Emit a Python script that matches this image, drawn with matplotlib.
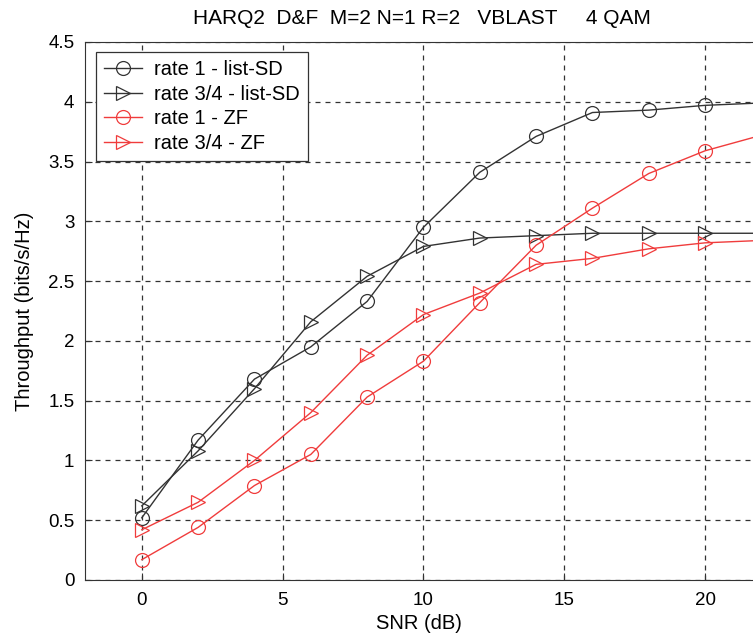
import matplotlib
matplotlib.use("Agg")
import matplotlib.pyplot as plt

snr = [0, 2, 4, 6, 8, 10, 12, 14, 16, 18, 20, 22]
rate1_sd = [0.52, 1.17, 1.68, 1.95, 2.33, 2.95, 3.41, 3.71, 3.91, 3.93, 3.97, 3.99]
rate34_sd = [0.62, 1.08, 1.60, 2.16, 2.54, 2.79, 2.86, 2.88, 2.90, 2.90, 2.90, 2.90]
rate1_zf = [0.17, 0.44, 0.79, 1.05, 1.53, 1.83, 2.32, 2.80, 3.11, 3.40, 3.59, 3.72]
rate34_zf = [0.42, 0.65, 1.00, 1.40, 1.88, 2.22, 2.40, 2.64, 2.69, 2.77, 2.82, 2.84]
labels = ["rate 1 - list-SD", "rate 3/4 - list-SD", "rate 1 - ZF", "rate 3/4 - ZF"]
xticks = [0, 5, 10, 15, 20]
yticks = [0, 0.5, 1, 1.5, 2, 2.5, 3, 3.5, 4, 4.5]
ytick_labels = ['0', '0.5', '1', '1.5', '2', '2.5', '3', '3.5', '4', '4.5']
title = 'HARQ2  D&F  M=2 N=1 R=2   VBLAST     4 QAM'

plt.rcParams['font.family'] = ['Liberation Sans', 'DejaVu Sans']
fig = plt.figure(figsize=(7.53, 6.34), dpi=100)
ax = fig.add_axes([0.1135, 0.0852, 0.8865, 0.8486])

black = '#333333'
red = '#f03c3c'
ms = 10
ax.plot(snr, rate1_sd, color=black, lw=1, marker='o', ms=ms, mfc='none', mec=black, mew=0.9, label=labels[0])
ax.plot(snr, rate34_sd, color=black, lw=1, marker='>', ms=ms, mfc='none', mec=black, mew=0.9, label=labels[1])
ax.plot(snr, rate1_zf, color=red, lw=1, marker='o', ms=ms, mfc='none', mec=red, mew=0.9, label=labels[2])
ax.plot(snr, rate34_zf, color=red, lw=1, marker='>', ms=ms, mfc='none', mec=red, mew=0.9, label=labels[3])

ax.set_xlim(-2, 21.7)
ax.set_ylim(0, 4.5)
ax.set_xticks(xticks)
ax.set_yticks(yticks)
ax.set_yticklabels(ytick_labels)
ax.tick_params(direction='in', labelsize=13.5, length=5, color='#333333')
ax.tick_params(axis='y', pad=8)
ax.tick_params(axis='x', pad=9)
ax.grid(True, color='#333333', linestyle=(0, (4, 4)), linewidth=0.9)
for s in ['left', 'bottom', 'top']:
    ax.spines[s].set_color('#333333')
ax.spines['right'].set_visible(False)

ax.set_xlabel('SNR (dB)', fontsize=14.5, labelpad=3)
ax.set_ylabel('Throughput (bits/s/Hz)', fontsize=14.5, labelpad=10)
fig.text(422 / 753, 1 - 19 / 634, title, fontsize=15, ha='center', va='center')

leg = ax.legend(loc='upper left', fontsize=14.5, frameon=True, fancybox=False,
                edgecolor='#333333', framealpha=1, handlelength=1.9,
                handletextpad=0.6, borderpad=0.4, labelspacing=0.28,
                borderaxespad=0.5)
leg.get_frame().set_linewidth(0.9)

fig.savefig('out.png', dpi=100)
